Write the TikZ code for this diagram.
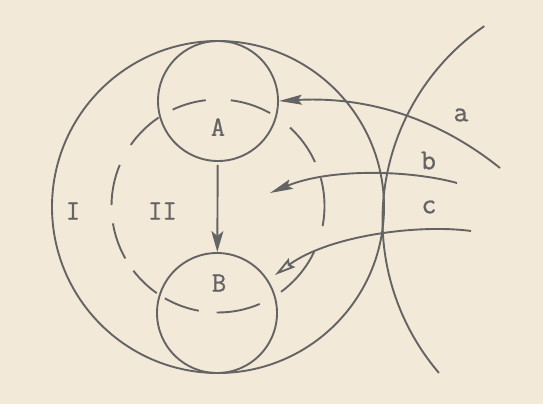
\documentclass[tikz,border=0pt]{standalone}
\usepackage{fontspec}
\newfontfamily\tw[FakeBold=0.8]{Latin Modern Mono}
\usetikzlibrary{arrows.meta,calc}
\definecolor{paper}{RGB}{243,233,217}
\definecolor{ink}{RGB}{100,100,100}
\newcommand{\dashseg}[2]{\draw[line] ($(O)+(#1:106.5pt)$) arc[start angle=#1,end angle=#2,radius=106.5pt];}
\begin{document}
\begin{tikzpicture}[x=1pt,y=-1pt,
  line/.style={draw=ink,line width=1.9pt},
  ring/.style={circle,draw=ink,line width=1.9pt,inner sep=0pt},
  captxt/.style={text=ink,inner sep=0pt,font=\tw\fontsize{28pt}{29pt}\selectfont},
  lowtxt/.style={text=ink,inner sep=0pt,font=\tw\fontsize{29pt}{30pt}\selectfont},
  head/.style={-{Stealth[length=23pt,width=10pt,inset=4pt]}},
  vhead/.style={-{Stealth[length=21pt,width=12pt,inset=5pt]}},
  ohead/.style={-{Stealth[open,length=21pt,width=11pt,inset=3pt]}},
]
\fill[paper] (0,0) rectangle (543,404);
\useasboundingbox (0,0) rectangle (543,404);

% circles
\node[ring,minimum size=332pt] (big) at (218,207) {};
\node[ring,minimum size=120pt] (cA) at (218,101) {};
\node[ring,minimum size=120pt] (cB) at (217,313) {};

% right large arc
\coordinate (R) at (618,220);
\draw[line] ($(R)+(124.6:235.5pt)$) arc[start angle=124.6,end angle=220.5,radius=235.5pt];

% dashed circle
\coordinate (O) at (218,206);
\dashseg{115.2}{96.6}
\dashseg{83.1}{60.7}
\dashseg{47.4}{24.4}
\dashseg{15.1}{-10.9}
\dashseg{-25.6}{-53.7}
\dashseg{-66.9}{-90.7}
\dashseg{-100.4}{-119.9}
\dashseg{-125.1}{-142.6}
\dashseg{-150.5}{-170.6}
\dashseg{179.5}{157.3}
\dashseg{145}{123.9}

% labels
\node[captxt] (A) at (218,127) {A};
\node[captxt] (B) at (219,283) {B};
\node[captxt] (I) at (73,211) {I};
\node[captxt] (II) at (162.5,211) {II};
\node[lowtxt] (la) at (461,115) {a};
\node[lowtxt] (lb) at (428.5,160.5) {b};
\node[lowtxt] (lc) at (429,207) {c};

% arrows
\coordinate (ae) at (500,168);
\coordinate (be) at (457,183);
\coordinate (bt) at (270,193);
\coordinate (ce) at (471,231);
\coordinate (ct) at (275,275);
\draw[line,vhead,shorten <=3pt] (cA) -- (cB);
\draw[line,head] (ae) .. controls (425,108) and (350,97) .. (cA.east);
\draw[line,head] (be) .. controls (410,170) and (330,168) .. (bt);
\draw[line,ohead] (ce) .. controls (420,224) and (330,235) .. (ct);
\end{tikzpicture}
\end{document}
